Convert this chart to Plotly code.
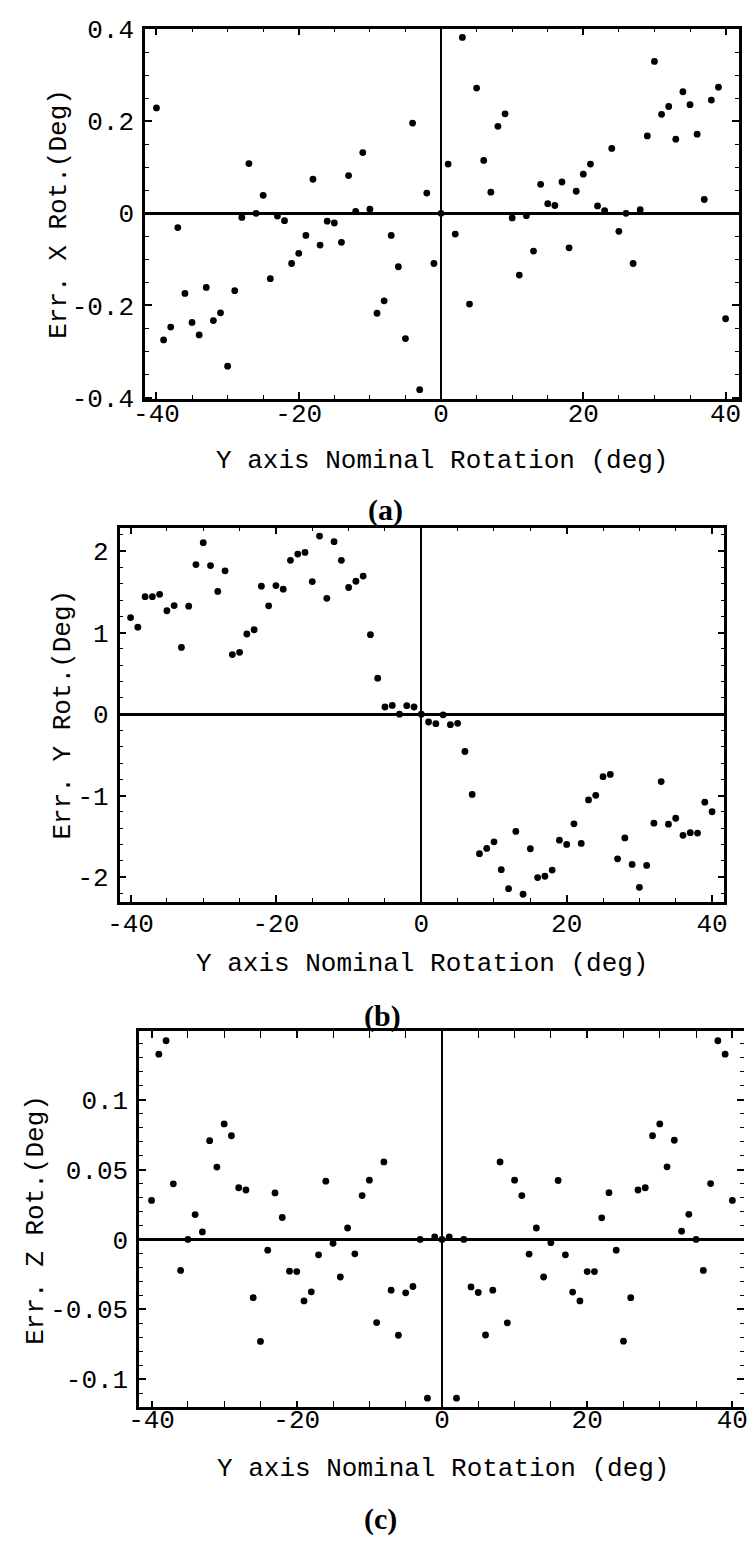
import plotly.graph_objects as go

# ---------------- data ----------------
X_DEG = list(range(-40, 41))

ERR_X = [0.229, -0.275, -0.247, -0.031, -0.174, -0.237, -0.264, -0.161, -0.233, -0.216,
         -0.332, -0.168, -0.009, 0.108, 0.0, 0.039, -0.142, -0.006, -0.016, -0.109,
         -0.087, -0.048, 0.074, -0.069, -0.017, -0.021, -0.063, 0.082, 0.004, 0.132,
         0.009, -0.217, -0.19, -0.048, -0.116, -0.272, 0.196, -0.383, 0.044, -0.109,
         0.0,
         0.107, -0.045, 0.382, -0.197, 0.272, 0.115, 0.046, 0.189, 0.216, -0.010,
         -0.134, -0.005, -0.082, 0.063, 0.021, 0.017, 0.068, -0.075, 0.048, 0.085,
         0.107, 0.016, 0.006, 0.141, -0.039, 0.0, -0.109, 0.008, 0.168, 0.330,
         0.215, 0.232, 0.161, 0.264, 0.236, 0.172, 0.030, 0.246, 0.274, -0.229]

ERR_Y = [1.185, 1.068, 1.442, 1.442, 1.470, 1.269, 1.333, 0.819, 1.325, 1.835,
         2.104, 1.823, 1.506, 1.759, 0.731, 0.759, 0.984, 1.036, 1.570, 1.329,
         1.578, 1.534, 1.888, 1.964, 1.984, 1.627, 2.185, 1.422, 2.116, 1.888,
         1.554, 1.631, 1.695, 0.976, 0.442, 0.088, 0.108, 0.0, 0.104, 0.088,
         0.0,
         -0.096, -0.116, -0.008, -0.129, -0.112, -0.458, -0.984, -1.711, -1.647, -1.566,
         -1.908, -2.141, -1.438, -2.209, -1.651, -2.004, -1.988, -1.912, -1.546, -1.598,
         -1.345, -1.586, -1.052, -0.996, -0.767, -0.739, -1.775, -1.518, -1.843, -2.124,
         -1.855, -1.337, -0.827, -1.349, -1.277, -1.486, -1.454, -1.458, -1.080, -1.197]

ERR_Z = [0.0279, 0.1326, 0.1422, 0.0398, -0.0222, 0.0, 0.0178, 0.0054, 0.0707, 0.0518,
         0.0827, 0.0742, 0.0370, 0.0354, -0.0417, -0.0730, -0.0077, 0.0333, 0.0157, -0.0227,
         -0.0230, -0.0440, -0.0375, -0.0110, 0.0417, -0.0028, -0.0269, 0.0082, -0.0103, 0.0314,
         0.0424, -0.0595, 0.0555, -0.0363, -0.0686, -0.0382, -0.0337, 0.0, -0.1136, 0.0019,
         0.0,
         0.0019, -0.1136, 0.0, -0.0340, -0.0380, -0.0684, -0.0363, 0.0555, -0.0597, 0.0424,
         0.0314, -0.0105, 0.0082, -0.0269, -0.0023, 0.0422, -0.0110, -0.0377, -0.0440, -0.0230,
         -0.0230, 0.0155, 0.0335, -0.0077, -0.0728, -0.0417, 0.0354, 0.0370, 0.0742, 0.0827,
         0.0520, 0.0710, 0.0059, 0.0180, 0.0, -0.0222, 0.0400, 0.1422, 0.1326, 0.0279]

X_TICKS = [-40, -20, 0, 20, 40]
X_TICK_TEXT = ["-40", "-20", "0", "20", "40"]
YA_TICKS = [-0.4, -0.2, 0, 0.2, 0.4]
YA_TICK_TEXT = ["-0.4", "-0.2", "0", "0.2", "0.4"]
YB_TICKS = [-2, -1, 0, 1, 2]
YB_TICK_TEXT = ["-2", "-1", "0", "1", "2"]
YC_TICKS = [-0.1, -0.05, 0, 0.05, 0.1]
YC_TICK_TEXT = ["-0.1", "-0.05", "0", "0.05", "0.1"]

X_TITLE = "Y axis Nominal Rotation (deg)"
Y_TITLES = ["Err. X Rot.(Deg)", "Err. Y Rot.(Deg)", "Err. Z Rot.(Deg)"]
PANEL_LABELS = ["(a)", "(b)", "(c)"]

# ---------------- layout helpers ----------------
W, H = 748, 1552
MONO = "Liberation Mono"


def xd(a, b):
    return [a / W, b / W]


def yd(top, bottom):
    return [1 - bottom / H, 1 - top / H]


def xaxis(domain, rng, anchor, standoff):
    return dict(domain=domain, range=rng, anchor=anchor,
                tickmode="array", tickvals=X_TICKS, ticktext=X_TICK_TEXT,
                ticks="inside", ticklen=7, tickwidth=1.6, tickcolor="black",
                showline=True, linewidth=2.6, linecolor="black", mirror="allticks",
                showgrid=False, zeroline=True, zerolinewidth=2.0, zerolinecolor="black",
                ticklabelstandoff=standoff, ticklabeloverflow="allow",
                minor=dict(tickmode="linear", tick0=0, dtick=5, ticks="inside",
                           ticklen=4, tickwidth=1.2, tickcolor="black", showgrid=False),
                tickfont=dict(family=MONO, size=26, color="black"))


def yaxis(domain, rng, anchor, tv, tt, mdt, mirror="allticks"):
    return dict(domain=domain, range=rng, anchor=anchor,
                tickmode="array", tickvals=tv, ticktext=tt,
                ticks="inside", ticklen=7, tickwidth=1.6, tickcolor="black",
                showline=True, linewidth=2.6, linecolor="black", mirror=mirror,
                showgrid=False, zeroline=True, zerolinewidth=2.8, zerolinecolor="black",
                ticklabelstandoff=3,
                minor=dict(tickmode="linear", tick0=0, dtick=mdt, ticks="inside",
                           ticklen=4, tickwidth=1.2, tickcolor="black", showgrid=False),
                tickfont=dict(family=MONO, size=26, color="black"))


marker = dict(color="black", size=6.8)

fig = go.Figure()
fig.add_trace(go.Scatter(x=X_DEG, y=ERR_X, mode="markers", marker=marker,
                         xaxis="x", yaxis="y", showlegend=False))
fig.add_trace(go.Scatter(x=X_DEG, y=ERR_Y, mode="markers", marker=marker,
                         xaxis="x2", yaxis="y2", showlegend=False))
fig.add_trace(go.Scatter(x=X_DEG, y=ERR_Z, mode="markers", marker=marker,
                         xaxis="x3", yaxis="y3", showlegend=False))
fig.add_trace(go.Scatter(x=[], y=[], mode="markers", xaxis="x3", yaxis="y4",
                         showlegend=False, hoverinfo="skip"))

# panel geometry (pixels)
A_X, A_Y = (136, 743), (17, 394)
B_X, B_Y = (110, 728), (525, 906)
C_X, C_Y = (130, 748), (1038, 1421)
C_YRANGE = [-0.1202, 0.149]

layout = dict(
    width=W, height=H, margin=dict(l=0, r=0, t=0, b=0),
    paper_bgcolor="white", plot_bgcolor="white", showlegend=False,
    xaxis=xaxis(xd(*A_X), [-41.6, 41.9], "y", -11),
    yaxis=yaxis(yd(*A_Y), [-0.403, 0.401], "x", YA_TICKS, YA_TICK_TEXT, 0.05),
    xaxis2=xaxis(xd(*B_X), [-41.5, 41.7], "y2", -4),
    yaxis2=yaxis(yd(*B_Y), [-2.30, 2.29], "x2", YB_TICKS, YB_TICK_TEXT, 0.2),
    xaxis3=xaxis(xd(*C_X), [-41.7, 41.6], "y3", -13),
    yaxis3=yaxis(yd(*C_Y), C_YRANGE, "x3", YC_TICKS, YC_TICK_TEXT, 0.01, mirror=False),
    yaxis4=dict(overlaying="y3", side="right", anchor="x3", range=C_YRANGE,
                tickmode="array", tickvals=YC_TICKS, showticklabels=False,
                ticks="inside", ticklen=7, tickwidth=1.6, tickcolor="black",
                showline=False, showgrid=False, zeroline=False,
                minor=dict(tickmode="linear", tick0=0, dtick=0.01, ticks="inside",
                           ticklen=4, tickwidth=1.2, tickcolor="black", showgrid=False)),
)
fig.update_layout(**layout)


def px(x):
    return x / W


def py(y):
    return 1 - y / H


x_title_pos = [((A_X[0] + A_X[1]) / 2, 457), ((B_X[0] + B_X[1]) / 2, 969),
               ((C_X[0] + C_X[1] + 2) / 2, 1484)]
y_title_pos = [(48, (A_Y[0] + A_Y[1]) / 2), (52, (B_Y[0] + B_Y[1]) / 2),
               (25, (C_Y[0] + C_Y[1]) / 2)]
letter_pos = [(382, 507), (379, 1022), (377, 1535)]

for i in range(3):
    xx, yy = x_title_pos[i]
    fig.add_annotation(text=X_TITLE, x=px(xx), y=py(yy), xref="paper", yref="paper",
                       showarrow=False, xanchor="center", yanchor="middle",
                       font=dict(family=MONO, size=26, color="black"))
    xx, yy = y_title_pos[i]
    fig.add_annotation(text=Y_TITLES[i], x=px(xx), y=py(yy), xref="paper", yref="paper",
                       showarrow=False, xanchor="center", yanchor="middle", textangle=-90,
                       font=dict(family=MONO, size=26, color="black"))
    xx, yy = letter_pos[i]
    fig.add_annotation(text="<b>" + PANEL_LABELS[i] + "</b>", x=px(xx), y=py(yy),
                       xref="paper", yref="paper", showarrow=False,
                       xanchor="center", yanchor="middle",
                       font=dict(family="Liberation Serif", size=30, color="black"))

fig.write_html("out.html")
